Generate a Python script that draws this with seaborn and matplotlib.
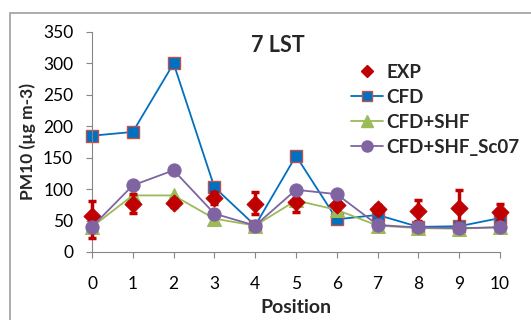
import matplotlib
matplotlib.use("Agg")
import matplotlib.pyplot as plt
import seaborn as sns
import numpy as np
from matplotlib.lines import Line2D
from matplotlib.patches import Rectangle

positions = [0, 1, 2, 3, 4, 5, 6, 7, 8, 9, 10]
exp_vals = [58, 77, 78, 86, 77, 80, 75, 68, 66, 70, 64]
exp_err_low = [36, 15, 6, 10, 16, 17, 6, 6, 16, 28, 13]
exp_err_up = [23, 15, 6, 10, 19, 15, 6, 6, 16, 28, 13]
cfd_vals = [185, 191, 300, 103, 42, 153, 52, 59, 40, 41, 54]
shf_vals = [40, 90, 90, 53, 42, 82, 67, 42, 38, 37, 40]
sc07_vals = [40, 106, 130, 61, 42, 99, 92, 43, 39, 38, 39]
labels = ["EXP", "CFD", "CFD+SHF", "CFD+SHF_Sc07"]
title = "7 LST"

sns.set_style("white")
plt.rcParams['font.family'] = ['Lato', 'DejaVu Sans']

W, H = 531, 320
fig = plt.figure(figsize=(W / 100, H / 100), dpi=100)
ax = fig.add_axes([92 / W, 1 - 252 / H, (500 - 92) / W, (252 - 32) / H])

red = "#C00000"
blue = "#0070C0"
green = "#9BBB59"
purple = "#8064A2"

sns.lineplot(x=positions, y=cfd_vals, ax=ax, color=blue, linewidth=1.3,
             marker="s", markersize=8, markerfacecolor=blue,
             markeredgecolor="#C0504D", markeredgewidth=1.0, zorder=2, clip_on=False)
sns.lineplot(x=positions, y=shf_vals, ax=ax, color=green, linewidth=1.3,
             marker="^", markersize=9.5, markerfacecolor=green,
             markeredgecolor=green, zorder=3, clip_on=False)
ax.errorbar(positions, exp_vals, yerr=[exp_err_low, exp_err_up], fmt="none",
            ecolor=red, elinewidth=2.5, capsize=3, capthick=2.5, zorder=4, clip_on=False)
sns.scatterplot(x=positions, y=exp_vals, ax=ax, color=red, marker="D", s=75,
                edgecolor=red, zorder=4.5, clip_on=False)
sns.lineplot(x=positions, y=sc07_vals, ax=ax, color=purple, linewidth=1.3,
             marker="o", markersize=9.5, markerfacecolor=purple,
             markeredgecolor=purple, zorder=5, clip_on=False)

ax.set_xlim(0, 10)
ax.set_ylim(0, 350)
ax.set_xticks(positions)
ax.set_yticks(np.arange(0, 351, 50))
ax.tick_params(axis="both", direction="out", length=4.5, width=0.8, color="#868686",
               labelsize=12.5, labelcolor="black")
ax.tick_params(axis="x", pad=13, bottom=True)
ax.tick_params(axis="y", pad=9, left=True)
for s in ["top", "right"]:
    ax.spines[s].set_visible(False)
for s in ["left", "bottom"]:
    ax.spines[s].set_color("#868686")
    ax.spines[s].set_linewidth(0.8)
ax.grid(False)

ax.set_xlabel("Position", fontsize=14, fontweight="bold")
ax.set_ylabel("PM10 (µg m-3)", fontsize=12.5, fontweight="bold")
ax.xaxis.set_label_coords(0.5, -0.215)
ax.yaxis.set_label_coords(-0.137, 0.5)

fig.text(278 / W, 1 - 45 / H, title, fontsize=15.5, fontweight="bold",
         ha="center", va="center")

handles = [
    Line2D([], [], linestyle="none", marker="D", markersize=6.5, color=red),
    Line2D([], [], color=blue, linewidth=1.3, marker="s", markersize=7,
           markerfacecolor=blue, markeredgecolor="#C0504D"),
    Line2D([], [], color=green, linewidth=1.3, marker="^", markersize=8, markerfacecolor=green),
    Line2D([], [], color=purple, linewidth=1.3, marker="o", markersize=8, markerfacecolor=purple),
]
leg = fig.legend(handles, labels, loc="upper left", bbox_to_anchor=(351 / W, 1 - 64 / H),
                 frameon=False, handlelength=1.7, handletextpad=0.2, labelspacing=0.42,
                 borderpad=0, borderaxespad=0, prop={"weight": "bold", "size": 13.5})

fig.patches.append(Rectangle((10 / W, -0.1), 1.2, (1 - 13 / H) + 0.1,
                             transform=fig.transFigure, fill=False,
                             edgecolor="#A6A6A6", linewidth=1.3))

fig.savefig("out.png", dpi=100)
